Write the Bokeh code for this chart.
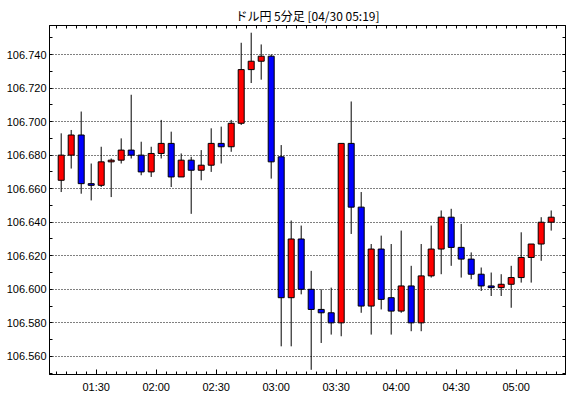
from bokeh.plotting import figure
from bokeh.models import (FixedTicker, LinearAxis, Range1d, Grid, ColumnDataSource,
                          PrintfTickFormatter)
from bokeh.embed import file_html
from bokeh.resources import INLINE

# ---- data (5-minute candles, start time) ----
times = ["01:10", "01:15", "01:20", "01:25", "01:30", "01:35", "01:40", "01:45", "01:50", "01:55",
         "02:00", "02:05", "02:10", "02:15", "02:20", "02:25", "02:30", "02:35", "02:40", "02:45",
         "02:50", "02:55", "03:00", "03:05", "03:10", "03:15", "03:20", "03:25", "03:30", "03:35",
         "03:40", "03:45", "03:50", "03:55", "04:00", "04:05", "04:10", "04:15", "04:20", "04:25",
         "04:30", "04:35", "04:40", "04:45", "04:50", "04:55", "05:00", "05:05", "05:10", "05:15"]
opens = [106.665, 106.680, 106.692, 106.663, 106.662, 106.676, 106.677, 106.683, 106.680, 106.670,
         106.681, 106.687, 106.667, 106.677, 106.671, 106.674, 106.687, 106.685, 106.699, 106.731,
         106.736, 106.739, 106.679, 106.595, 106.630, 106.600, 106.588, 106.586, 106.580, 106.687,
         106.649, 106.590, 106.624, 106.595, 106.587, 106.602, 106.580, 106.608, 106.624, 106.643,
         106.625, 106.618, 106.609, 106.602, 106.601, 106.603, 106.607, 106.619, 106.627, 106.640]
highs = [106.693, 106.695, 106.706, 106.675, 106.685, 106.678, 106.690, 106.716, 106.688, 106.685,
         106.701, 106.694, 106.681, 106.679, 106.683, 106.696, 106.697, 106.701, 106.747, 106.753,
         106.746, 106.740, 106.686, 106.641, 106.638, 106.611, 106.600, 106.601, 106.687, 106.712,
         106.658, 106.627, 106.632, 106.627, 106.635, 106.614, 106.627, 106.638, 106.647, 106.648,
         106.639, 106.622, 106.613, 106.610, 106.609, 106.614, 106.634, 106.627, 106.643, 106.647]
lows = [106.658, 106.672, 106.657, 106.653, 106.661, 106.655, 106.675, 106.678, 106.668, 106.667,
        106.678, 106.661, 106.667, 106.645, 106.665, 106.670, 106.675, 106.682, 106.698, 106.723,
        106.725, 106.666, 106.566, 106.566, 106.597, 106.552, 106.568, 106.573, 106.572, 106.633,
        106.586, 106.573, 106.588, 106.573, 106.586, 106.575, 106.575, 106.607, 106.609, 106.614,
        106.607, 106.606, 106.599, 106.596, 106.596, 106.589, 106.604, 106.604, 106.617, 106.635]
closes = [106.680, 106.692, 106.663, 106.662, 106.676, 106.677, 106.683, 106.680, 106.670, 106.681,
          106.687, 106.667, 106.677, 106.671, 106.674, 106.687, 106.685, 106.699, 106.731, 106.736,
          106.739, 106.676, 106.595, 106.630, 106.600, 106.588, 106.586, 106.580, 106.687, 106.649,
          106.590, 106.624, 106.594, 106.587, 106.602, 106.580, 106.608, 106.624, 106.643, 106.625,
          106.618, 106.609, 106.602, 106.601, 106.603, 106.607, 106.619, 106.627, 106.640, 106.643]

y_tick_values = [106.560, 106.580, 106.600, 106.620, 106.640, 106.660, 106.680, 106.700, 106.720, 106.740]
x_tick_labels = ["01:30", "02:00", "02:30", "03:00", "03:30", "04:00", "04:30", "05:00"]
title_text = "ドル円 5分足 [04/30 05:19]"


def to_min(s):
    h, m = s.split(":")
    return int(h) * 60 + int(m)


xs = [to_min(t) + 2.5 for t in times]
tops = [max(o, c) for o, c in zip(opens, closes)]
bots = [min(o, c) for o, c in zip(opens, closes)]
colors = ["#FF0000" if c >= o else "#0000FF" for o, c in zip(opens, closes)]

src = ColumnDataSource(dict(x=xs, high=highs, low=lows, top=tops, bottom=bots, color=colors))

x_major = [to_min(t) for t in x_tick_labels]
x_minor = [to_min(times[0]) + 5 * i for i in range(len(times) + 2)]
y_minor = [round(v + 0.010, 3) for v in y_tick_values] + [round(y_tick_values[0] - 0.010, 3)]
y_all = sorted(y_tick_values + y_minor)

p = figure(width=570, height=398,
           x_range=Range1d(66.65, 324.65), y_range=Range1d(106.5492, 106.7573),
           output_backend="svg", toolbar_location=None,
           x_axis_location=None, y_axis_location=None,
           min_border_left=49, min_border_right=5, min_border_top=25, min_border_bottom=24,
           title=title_text)
p.title.align = "center"
p.title.text_font = "Noto Sans CJK JP"
p.title.text_font_size = "12px"
p.title.text_font_style = "normal"
p.title.text_color = "black"
p.title.standoff = 3
p.title.offset = 0

p.background_fill_color = "white"
p.border_fill_color = "white"
p.outline_line_color = "black"
p.outline_line_width = 1
p.grid.visible = False

p.add_layout(Grid(dimension=1, ticker=FixedTicker(ticks=y_tick_values),
                  grid_line_color="black", grid_line_dash="1 2", grid_line_width=1))


def style_axis(ax):
    ax.axis_line_color = "black"
    ax.major_tick_line_color = "black"
    ax.minor_tick_line_color = "black"
    ax.major_tick_out = 0
    ax.minor_tick_out = 0
    ax.major_label_text_font = "Liberation Sans"
    ax.major_label_text_font_size = "11px"
    ax.major_label_text_color = "black"


left = LinearAxis(ticker=FixedTicker(ticks=y_tick_values, minor_ticks=y_minor),
                  formatter=PrintfTickFormatter(format="%.3f"))
style_axis(left)
left.major_tick_in = 3
left.minor_tick_in = 3
left.major_label_standoff = 3
p.add_layout(left, "left")

# right side: ticks only (no labels)
right = LinearAxis(ticker=FixedTicker(ticks=[], minor_ticks=y_all))
style_axis(right)
right.major_label_standoff = 0
right.minor_tick_in = 3
p.add_layout(right, "right")

bottom = LinearAxis(ticker=FixedTicker(ticks=x_major, minor_ticks=x_minor),
                    major_label_overrides={m: s for m, s in zip(x_major, x_tick_labels)})
style_axis(bottom)
bottom.major_tick_in = 5
bottom.minor_tick_in = 3
bottom.major_label_standoff = 6
p.add_layout(bottom, "below")

# top side: ticks only (no labels)
top = LinearAxis(ticker=FixedTicker(ticks=[], minor_ticks=x_minor))
style_axis(top)
top.major_label_standoff = 0
top.minor_tick_in = 3
p.add_layout(top, "above")

p.segment(x0="x", y0="low", x1="x", y1="high", source=src, line_color="black", line_width=1)
p.vbar(x="x", width=3, top="top", bottom="bottom", source=src,
       fill_color="color", line_color="black", line_width=1)

open("out.html", "w").write(file_html(p, INLINE))
